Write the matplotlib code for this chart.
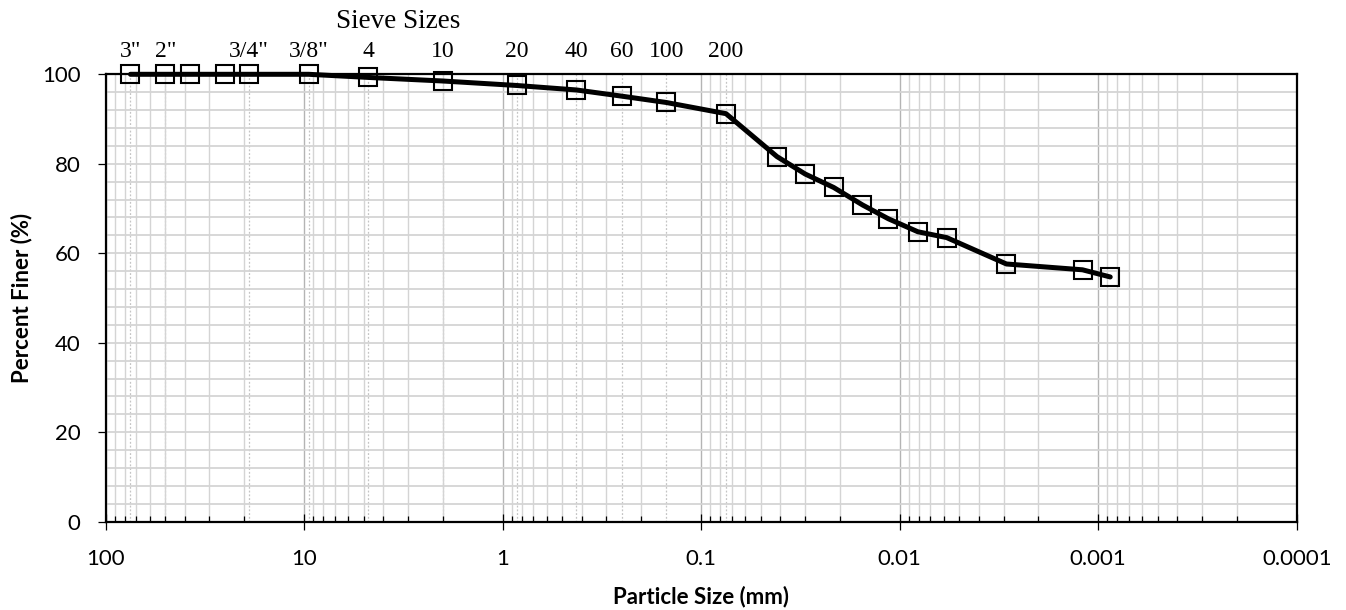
import matplotlib
matplotlib.use("Agg")
import matplotlib.pyplot as plt
from matplotlib.ticker import LogLocator, MultipleLocator, FixedLocator, NullFormatter, FuncFormatter

# Grain size distribution (sieve + hydrometer)
particle_size_mm = [75, 50, 37.5, 25, 19, 9.5, 4.75, 2.0, 0.85, 0.425, 0.25, 0.15, 0.075,
                    0.0415, 0.0299, 0.0215, 0.0154, 0.0114, 0.0081, 0.0058, 0.0029,
                    0.0012, 0.00087]
percent_finer = [100, 100, 100, 100, 100, 100, 99.3, 98.5, 97.5, 96.5, 95.1, 93.7, 91.2,
                 81.6, 77.7, 74.7, 70.8, 67.7, 64.8, 63.5, 57.6, 56.3, 54.7]

# Standard sieve openings shown along the top
sieve_labels = ['3"', '2"', '3/4"', '3/8"', '4', '10', '20', '40', '60', '100', '200']
sieve_openings_mm = [75, 50, 19, 9.5, 4.75, 2.0, 0.85, 0.425, 0.25, 0.15, 0.075]

x_tick_values = [100, 10, 1, 0.1, 0.01, 0.001, 0.0001]
x_tick_labels = ["100", "10", "1", "0.1", "0.01", "0.001", "0.0001"]
y_tick_values = [0, 20, 40, 60, 80, 100]

fig = plt.figure(figsize=(13.46, 6.10), dpi=100)
ax = fig.add_axes([0.0785, 0.1448, 0.8849, 0.7334])

ax.set_xscale("log")
ax.set_xlim(100, 0.0001)
ax.set_ylim(0, 100)

# Grid: decades, 2..9 subdivisions, and every 4 % vertically
ax.xaxis.set_major_locator(FixedLocator(x_tick_values))
ax.xaxis.set_minor_locator(LogLocator(base=10, subs=range(2, 10), numticks=50))
ax.xaxis.set_major_formatter(FuncFormatter(
    lambda v, p: x_tick_labels[x_tick_values.index(v)] if v in x_tick_values else ""))
ax.xaxis.set_minor_formatter(NullFormatter())
ax.yaxis.set_major_locator(FixedLocator(y_tick_values))
ax.yaxis.set_minor_locator(MultipleLocator(4))

ax.grid(which="major", axis="x", color="#b4b4b4", linewidth=1.0, zorder=0)
ax.grid(which="minor", axis="x", color="#d4d4d4", linewidth=1.0, zorder=0)
ax.grid(which="both", axis="y", color="#d4d4d4", linewidth=1.3, zorder=0)
ax.set_axisbelow(True)

for d in sieve_openings_mm:
    ax.axvline(d, color="#c4c4c4", linestyle=(0, (1.5, 1.5)), linewidth=0.9, zorder=0.5)

ax.plot(particle_size_mm, percent_finer, color="black", linewidth=3.6,
        solid_joinstyle="round", solid_capstyle="round", zorder=3, clip_on=False)
ax.plot(particle_size_mm, percent_finer, linestyle="none", marker="s", markersize=12.5,
        markerfacecolor="none", markeredgecolor="black", markeredgewidth=1.5,
        zorder=4, clip_on=False)

for s in ax.spines.values():
    s.set_linewidth(1.6)
    s.set_color("black")

ax.tick_params(axis="x", which="major", direction="inout", length=11.5, width=0.9,
               pad=14, labelsize=16)
ax.tick_params(axis="x", which="minor", direction="in", length=4, width=0.9)
ax.tick_params(axis="y", which="major", direction="out", length=6, width=0.9,
               pad=12, labelsize=16)
ax.tick_params(axis="y", which="minor", length=0)
for lab in ax.get_xticklabels() + ax.get_yticklabels():
    lab.set_fontfamily("Lato")

ax.set_xlabel("Particle Size (mm)", fontfamily="Lato", fontweight="bold", fontsize=16,
              labelpad=12)
ax.set_ylabel("Percent Finer (%)", fontfamily="Lato", fontweight="bold", fontsize=16,
              labelpad=7)

# Sieve designations above the plot
for lab, d in zip(sieve_labels, sieve_openings_mm):
    ax.annotate(lab, xy=(d, 1.0), xycoords=("data", "axes fraction"),
                xytext=(0, 23), textcoords="offset pixels", ha="center", va="center",
                fontfamily="Liberation Serif", fontsize=17)
fig.text(398 / 1346, 1 - 21 / 610, "Sieve Sizes", ha="center", va="center",
         fontfamily="Liberation Serif", fontsize=19.5)

fig.savefig("out.png", dpi=100)
